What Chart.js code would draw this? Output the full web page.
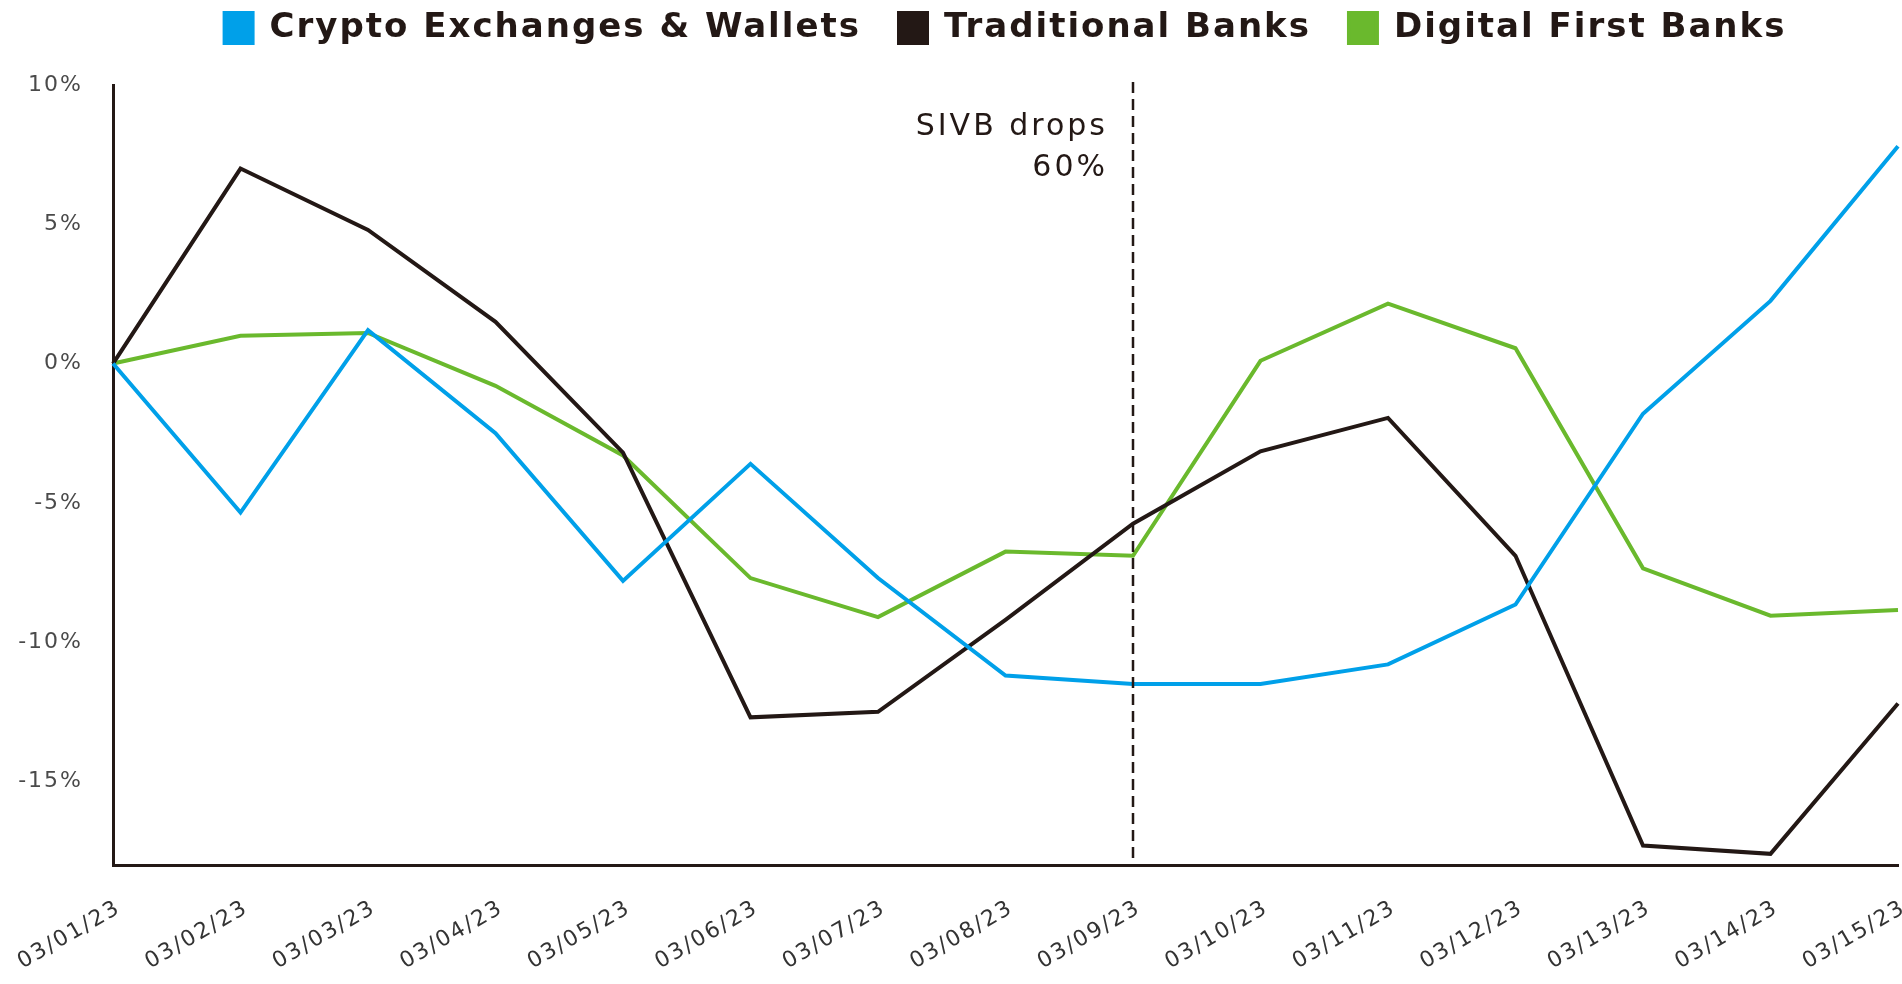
<!DOCTYPE html>
<html>
<head>
<meta charset="utf-8">
<script src="https://cdn.jsdelivr.net/npm/chart.js@4/dist/chart.umd.min.js"></script>
<style>
  html, body { margin: 0; padding: 0; background: #ffffff; }
  #wrap { width: 1902px; height: 984px; position: relative; }
</style>
</head>
<body>
<div id="wrap"><canvas id="chart"></canvas></div>
<script>
/* ---------- data ---------- */
const dates = ["03/01/23","03/02/23","03/03/23","03/04/23","03/05/23","03/06/23","03/07/23","03/08/23",
               "03/09/23","03/10/23","03/11/23","03/12/23","03/13/23","03/14/23","03/15/23"];

const cryptoVals      = [0, -5.35, 1.2, -2.5, -7.8, -3.6, -7.7, -11.2, -11.5, -11.5, -10.8, -8.65, -1.8, 2.25, 7.8];
const traditionalVals = [0, 7.0, 4.8, 1.5, -3.2, -12.7, -12.5, -9.2, -5.75, -3.15, -1.95, -6.9, -17.3, -17.6, -12.2];
const digitalVals     = [0, 1.0, 1.1, -0.8, -3.3, -7.7, -9.1, -6.75, -6.9, 0.1, 2.15, 0.55, -7.35, -9.05, -8.85];

const yTickValues = [-15, -10, -5, 0, 5, 10];
const yMin = -18, yMax = 10;

const eventIndex = 8;                       // 03/09/23
const eventLines = ["SIVB drops", "60%"];

/* ---------- colours ---------- */
const BLUE  = "#00a0e9";
const BLACK = "#231815";
const GREEN = "#6ab92d";

const SPACING = "2px";   // the source artwork uses wide type
const LEGEND_GAP = 38;   // space between legend items

/* slight tracking everywhere (context state is reset on resize, so set it each pass) */
const tracking = {
  id: "tracking",
  beforeUpdate(chart) { chart.ctx.letterSpacing = SPACING; },
  beforeDraw(chart)   { chart.ctx.letterSpacing = SPACING; }
};

/* dashed marker + label for the SIVB day */
const eventMarker = {
  id: "eventMarker",
  afterDatasetsDraw(chart) {
    const { ctx, chartArea, scales: { x, y } } = chart;
    const px = x.getPixelForValue(eventIndex);
    ctx.save();
    ctx.strokeStyle = BLACK;
    ctx.lineWidth = 2.5;
    ctx.setLineDash([11, 6]);
    ctx.beginPath();
    ctx.moveTo(px, y.getPixelForValue(yMax) - 3);
    ctx.lineTo(px, chartArea.bottom);
    ctx.stroke();
    ctx.setLineDash([]);
    ctx.fillStyle = BLACK;
    ctx.letterSpacing = "3px";
    ctx.font = "30px 'DejaVu Sans', sans-serif";
    ctx.textAlign = "right";
    ctx.textBaseline = "alphabetic";
    ctx.fillText(eventLines[0], px - 25, chartArea.top + 50);
    ctx.fillText(eventLines[1], px - 25, chartArea.top + 91);
    ctx.restore();
  }
};

/* legend: wide gaps between items but a short band, centred over the plot */
const legendBand = {
  id: "legendBand",
  afterInit(chart) {
    const lg = chart.legend;
    const fit = lg.fit;
    const draw = lg.draw;
    lg.fit = function () { fit.call(this); this.height = 85; };
    lg.draw = function () {
      const c = this.ctx;
      const ca = chart.chartArea;
      const dx = (ca.left + ca.right) / 2 - (this.left + this.right) / 2;
      c.save();
      c.translate(dx, -(LEGEND_GAP - 11));
      draw.call(this);
      c.restore();
    };
  }
};

const line = (label, data, color) => ({
  label, data,
  borderColor: color,
  backgroundColor: color,
  borderWidth: 4,
  pointRadius: 0,
  pointHoverRadius: 0,
  tension: 0,
  fill: false
});

new Chart(document.getElementById("chart"), {
  type: "line",
  data: {
    labels: dates,
    datasets: [
      line("Crypto Exchanges & Wallets", cryptoVals, BLUE),
      line("Traditional Banks", traditionalVals, BLACK),
      line("Digital First Banks", digitalVals, GREEN)
    ]
  },
  options: {
    responsive: true,
    maintainAspectRatio: false,
    animation: false,
    layout: { padding: { left: 10, right: 4, top: 0, bottom: 0 } },
    plugins: {
      legend: {
        position: "top",
        align: "center",
        labels: {
          boxWidth: 28,
          boxHeight: 30,
          padding: LEGEND_GAP,
          color: BLACK,
          font: { family: "'DejaVu Sans', sans-serif", size: 34, weight: "bold" }
        }
      },
      tooltip: { enabled: false }
    },
    scales: {
      x: {
        offset: false,
        grid: { display: false, drawTicks: false },
        border: { display: true, color: BLACK, width: 3 },
        ticks: {
          color: "#333333",
          font: { family: "'DejaVu Sans', sans-serif", size: 22 },
          minRotation: 30,
          maxRotation: 30,
          autoSkip: false,
          padding: 30,
          labelOffset: 6
        },
        afterFit(scale) {
          scale.height = 119;
          scale.paddingLeft = 0;
          scale.paddingRight = 0;
        }
      },
      y: {
        min: yMin,
        max: yMax,
        grid: { display: false, drawTicks: false },
        border: { display: true, color: BLACK, width: 3 },
        afterBuildTicks(scale) { scale.ticks = yTickValues.map(v => ({ value: v })); },
        ticks: {
          color: "#4a4a4a",
          font: { family: "'DejaVu Sans', sans-serif", size: 22 },
          padding: 30,
          callback: v => v + "%"
        },
        afterFit(scale) { scale.width = 103; }
      }
    }
  },
  plugins: [tracking, legendBand, eventMarker]
});
</script>
</body>
</html>
